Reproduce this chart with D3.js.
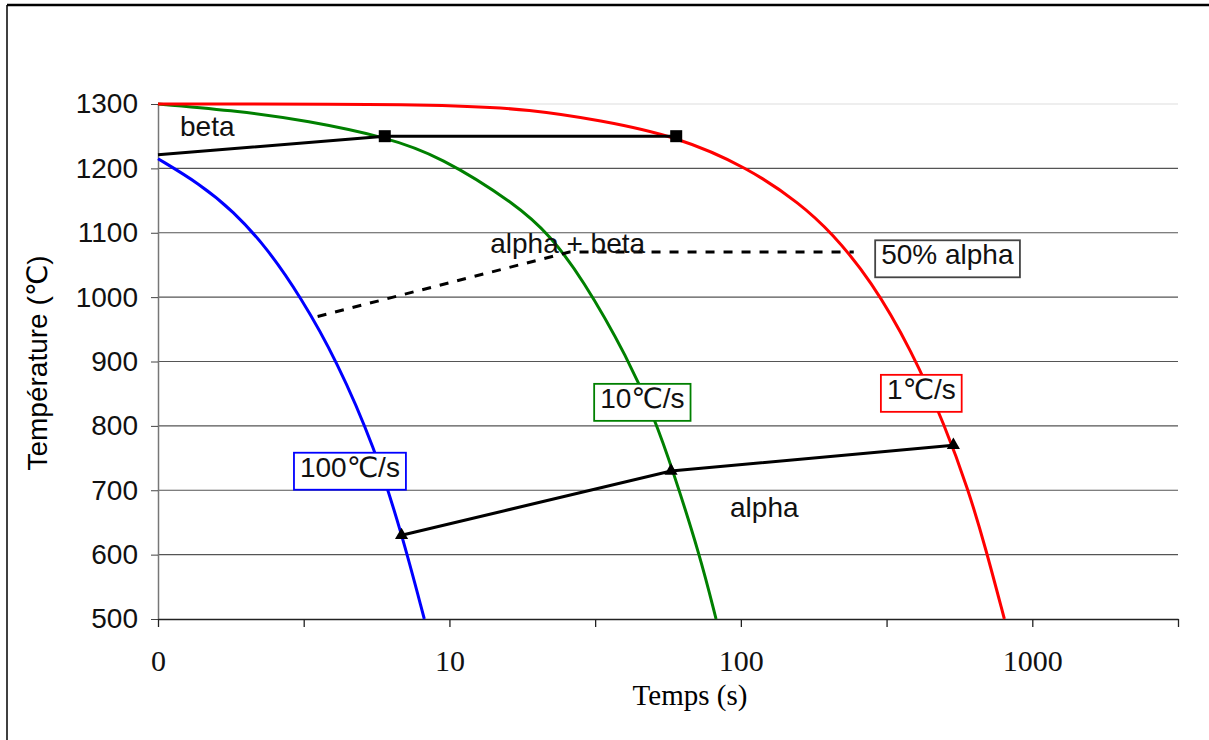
<!DOCTYPE html>
<html>
<head>
<meta charset="utf-8">
<script src="https://cdn.jsdelivr.net/npm/d3@7"></script>
<style>
  body { margin: 0; background: #fff; }
  .sans { font-family: 'Liberation Sans', Arial, 'DejaVu Sans', sans-serif; }
  .serif { font-family: 'Liberation Serif', 'Times New Roman', serif; }
</style>
</head>
<body>
<div id="chart"></div>
<script>
// cooling curves, time (s) on a log axis, temperature in deg C
var blueTime = [1, 1.39, 1.81, 2.37, 3.09, 4.1, 5.54, 6.85, 8.2];
var blueTemp = [1215, 1176, 1134, 1076, 1000, 902, 766, 634, 500];

var greenTime = [1, 1.91, 3.25, 6.0, 9.28, 17.1, 22.2, 28.5, 41.0, 50.8, 58.0, 72.4, 82.2];
var greenTemp = [1300, 1289, 1274, 1249, 1219, 1143, 1095, 1030, 905, 809, 735, 599, 500];

var redTime = [1, 10, 19.2, 32.6, 60, 106, 160, 205, 279, 385, 504, 604, 690, 802];
var redTemp = [1300, 1300, 1291, 1275, 1250, 1201, 1145, 1100, 1027, 918, 798, 700, 612, 500];

// phase boundaries
var betaTime = [1, 6.0, 60];
var betaTemp = [1221, 1250, 1250];
var alphaTime = [6.85, 57.6, 536];
var alphaTemp = [630, 730, 770];
var halfTime = [3.53, 25.8, 244];
var halfTemp = [970, 1070, 1070];

var tempTicks = [500, 600, 700, 800, 900, 1000, 1100, 1200, 1300];
var timeTicks = [1, 3.162, 10, 31.62, 100, 316.2, 1000, 3162];
var timeLabels = ['0', '', '10', '', '100', '', '1000', ''];

var notes = [
    {text: 'beta', t: 1.19, T: 1251},
    {text: 'alpha + beta', t: 13.8, T: 1068},
    {text: 'alpha', t: 91.8, T: 658}
];
var boxes = [
    {text: '50% alpha', t: 303, T: 1051, color: '#444'},
    {text: '100\u2103/s', t: 3.07, T: 721, color: '#0000ff'},
    {text: '10\u2103/s', t: 32.9, T: 828, color: '#008000'},
    {text: '1\u2103/s', t: 317, T: 842, color: '#ff0000'}
];

var width = 1209, height = 740;
var margin = {top: 104, left: 158, right: 31, bottom: 121};

var svg = d3.select('#chart').append('svg')
    .attr('width', width)
    .attr('height', height);

// outer frame (top and left edges visible)
svg.append('line').attr('x1', 7).attr('x2', width).attr('y1', 5).attr('y2', 5)
    .attr('stroke', '#000').attr('stroke-width', 2.5);
svg.append('line').attr('x1', 7).attr('x2', 7).attr('y1', 5).attr('y2', height)
    .attr('stroke', '#000').attr('stroke-width', 1.5);

var x = d3.scaleLog()
    .domain([1, 3162])
    .range([margin.left, width - margin.right]);

var y = d3.scaleLinear()
    .domain([500, 1300])
    .range([height - margin.bottom, margin.top]);

// gridlines
svg.append('g')
    .selectAll('line')
    .data(tempTicks.slice(1))
    .enter()
    .append('line')
    .attr('x1', x(1))
    .attr('x2', x(3162))
    .attr('y1', function(d) { return y(d) })
    .attr('y2', function(d) { return y(d) })
    .attr('stroke', function(d) { return d === 1300 ? '#dddddd' : '#555' })
    .attr('stroke-width', 1.2);

// y axis
var yAxis = svg.append('g')
    .attr('class', 'sans')
    .attr('transform', 'translate(' + margin.left + ',0)')
    .call(d3.axisLeft(y)
        .tickValues(tempTicks)
        .tickFormat(d3.format('d'))
        .tickSize(7)
        .tickSizeOuter(0)
        .tickPadding(13));
yAxis.attr('font-family', null);
yAxis.select('.domain').attr('stroke', '#777').attr('stroke-width', 1.5);
yAxis.selectAll('.tick line').attr('stroke', '#444');
yAxis.selectAll('.tick text').attr('font-size', 28).attr('fill', '#111');

// x axis
var xAxis = svg.append('g')
    .attr('class', 'serif')
    .attr('transform', 'translate(0,' + y(500) + ')')
    .call(d3.axisBottom(x)
        .tickValues(timeTicks)
        .tickSize(8)
        .tickSizeOuter(0)
        .tickFormat(function(d, i) { return timeLabels[i] }));
xAxis.attr('font-family', null);
xAxis.select('.domain').attr('stroke', '#222').attr('stroke-width', 1.5);
xAxis.selectAll('.tick line').attr('stroke', '#222').attr('stroke-width', 1.3);
xAxis.selectAll('.tick text')
    .attr('font-size', 30)
    .attr('fill', '#111')
    .attr('y', 52)
    .attr('dy', 0);

svg.append('text')
    .attr('class', 'serif')
    .attr('x', 690)
    .attr('y', 705)
    .attr('text-anchor', 'middle')
    .attr('font-size', 29)
    .text('Temps (s)');

svg.append('text')
    .attr('class', 'sans')
    .attr('transform', 'translate(47,363) rotate(-90)')
    .attr('text-anchor', 'middle')
    .attr('font-size', 28)
    .text('Temp\u00e9rature (\u2103)');

var line = d3.line()
    .x(function(d) { return x(d[0]) })
    .y(function(d) { return y(d[1]) })
    .curve(d3.curveBasis);

function pairs(ts, vs) {
    return ts.map(function(t, i) { return [t, vs[i]] });
}

var curves = [
    {pts: pairs(blueTime, blueTemp), color: '#0000ff'},
    {pts: pairs(greenTime, greenTemp), color: '#008000'},
    {pts: pairs(redTime, redTemp), color: '#ff0000'}
];

svg.append('g')
    .selectAll('path')
    .data(curves)
    .enter()
    .append('path')
    .attr('d', function(d) { return line(d.pts) })
    .attr('fill', 'none')
    .attr('stroke', function(d) { return d.color })
    .attr('stroke-width', 3);

var straight = d3.line()
    .x(function(d) { return x(d[0]) })
    .y(function(d) { return y(d[1]) });

var beta = pairs(betaTime, betaTemp);
var alpha = pairs(alphaTime, alphaTemp);
var half = pairs(halfTime, halfTemp);

svg.append('path').attr('d', straight(beta))
    .attr('fill', 'none').attr('stroke', '#000').attr('stroke-width', 3);
svg.append('path').attr('d', straight(alpha))
    .attr('fill', 'none').attr('stroke', '#000').attr('stroke-width', 3);
svg.append('path').attr('d', straight(half))
    .attr('fill', 'none').attr('stroke', '#000').attr('stroke-width', 3)
    .attr('stroke-dasharray', '9,9');

svg.append('g')
    .selectAll('rect')
    .data(beta.slice(1))
    .enter()
    .append('rect')
    .attr('x', function(d) { return x(d[0]) - 6 })
    .attr('y', function(d) { return y(d[1]) - 6 })
    .attr('width', 12)
    .attr('height', 12)
    .attr('fill', '#000');

svg.append('g')
    .selectAll('path')
    .data(alpha)
    .enter()
    .append('path')
    .attr('transform', function(d) { return 'translate(' + x(d[0]) + ',' + y(d[1]) + ')' })
    .attr('d', d3.symbol().type(d3.symbolTriangle).size(75))
    .attr('fill', '#000');

// text annotations
svg.append('g')
    .selectAll('text')
    .data(notes)
    .enter()
    .append('text')
    .attr('class', 'sans')
    .attr('x', function(d) { return x(d.t) })
    .attr('y', function(d) { return y(d.T) })
    .attr('font-size', 28)
    .attr('fill', '#111')
    .text(function(d) { return d.text });

var boxed = svg.append('g')
    .selectAll('g')
    .data(boxes)
    .enter()
    .append('g');

boxed.append('rect');
boxed.append('text')
    .attr('class', 'sans')
    .attr('x', function(d) { return x(d.t) })
    .attr('y', function(d) { return y(d.T) })
    .attr('font-size', 28)
    .attr('fill', '#111')
    .text(function(d) { return d.text });

boxed.each(function(d) {
    var g = d3.select(this);
    var bb = g.select('text').node().getBBox();
    g.select('rect')
        .attr('x', bb.x - 6)
        .attr('y', bb.y + 1)
        .attr('width', bb.width + 12)
        .attr('height', bb.height + 6)
        .attr('fill', '#fff')
        .attr('stroke', d.color)
        .attr('stroke-width', 1.8);
});
</script>
</body>
</html>
